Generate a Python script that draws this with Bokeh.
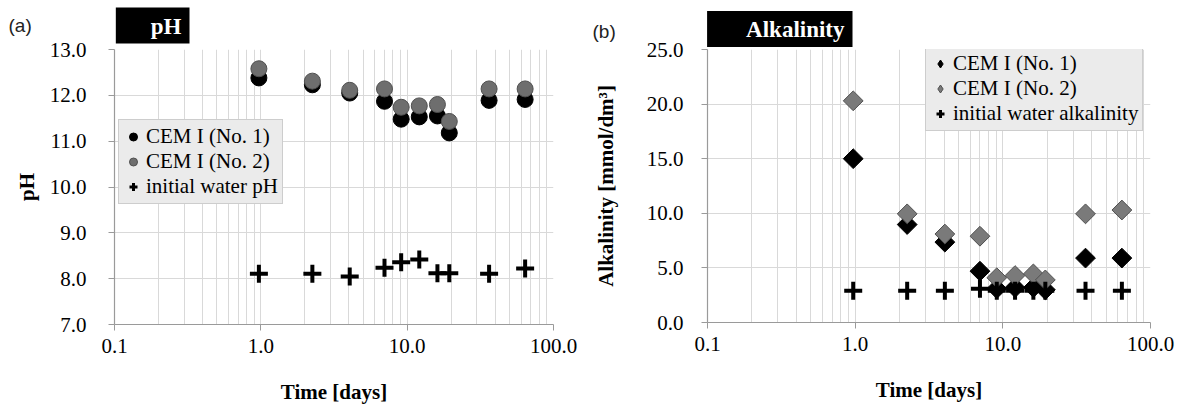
from bokeh.plotting import figure
from bokeh.layouts import row
from bokeh.models import (ColumnDataSource, FixedTicker, Label, Legend, LegendItem, Range1d)
from bokeh.embed import file_html
from bokeh.resources import INLINE
import math

# ---------------- data ----------------
days = [0.97, 2.25, 4.05, 7.0, 9.1, 12.1, 16.1, 19.4, 36.3, 64.0]
ph_no1 = [12.38, 12.23, 12.05, 11.87, 11.48, 11.53, 11.55, 11.18, 11.89, 11.91]
ph_no2 = [12.58, 12.31, 12.11, 12.14, 11.74, 11.77, 11.80, 11.43, 12.14, 12.14]
ph_water = [8.11, 8.11, 8.05, 8.24, 8.36, 8.42, 8.12, 8.12, 8.11, 8.22]

alk_no1 = [15.0, 8.97, 7.36, 4.7, 3.1, 3.2, 3.2, 3.0, 5.9, 5.9]
alk_no2 = [20.3, 9.95, 8.1, 7.9, 4.1, 4.3, 4.45, 3.9, 9.95, 10.3]
alk_water = [2.9, 2.9, 2.9, 3.1, 2.9, 2.9, 2.9, 2.9, 2.9, 2.9]

x_ticks = [0.1, 1, 10, 100]
x_tick_labels = ["0.1", "1.0", "10.0", "100.0"]
ph_ticks = [7, 8, 9, 10, 11, 12, 13]
alk_ticks = [0, 5, 10, 15, 20, 25]

legend_ph = ["CEM I (No. 1)", "CEM I (No. 2)", "initial water pH"]
legend_alk = ["CEM I (No. 1)", "CEM I (No. 2)", "initial water alkalinity"]

SERIF = "Liberation Serif"
SANS = "Liberation Sans"
GRID = "#d9d9d9"
AXIS = "#9a9a9a"
GRAY_FILL = "#6e6e6e"
GRAY_LINE = "#505050"

minor = [m * d for d in (0.1, 1, 10) for m in range(2, 10)]


def style(p, yticks, ylabel, lab_standoff, tick_standoff):
    p.outline_line_color = None
    p.background_fill_color = "white"
    p.border_fill_color = "white"
    p.xaxis.ticker = FixedTicker(ticks=x_ticks, minor_ticks=minor)
    p.xaxis.major_label_overrides = {t: l for t, l in zip(x_ticks, x_tick_labels)}
    p.yaxis.ticker = FixedTicker(ticks=yticks)
    p.yaxis.major_label_overrides = {t: "%.1f" % t for t in yticks}
    for ax in (p.xaxis[0], p.yaxis[0]):
        ax.axis_line_color = AXIS
        ax.axis_line_width = 1.2
        ax.major_tick_line_color = AXIS
        ax.major_tick_out = 6
        ax.major_tick_in = 0
        ax.minor_tick_line_color = None
        ax.major_label_text_font = SERIF
        ax.major_label_text_font_size = "21px"
        ax.major_label_text_color = "black"
        ax.axis_label_text_font = SERIF
        ax.axis_label_text_font_size = "21px"
        ax.axis_label_text_font_style = "bold"
        ax.axis_label_text_color = "black"
    p.xaxis.axis_label = "Time [days]"
    p.xaxis.major_label_standoff = 8
    p.xaxis.axis_label_standoff = 24
    p.yaxis.axis_label = ylabel
    p.yaxis.major_label_standoff = tick_standoff
    p.yaxis.axis_label_standoff = lab_standoff
    p.xgrid.grid_line_color = GRID
    p.xgrid.minor_grid_line_color = GRID
    p.ygrid.grid_line_color = GRID


def make_legend(p, renderers, labels, loc):
    items = [LegendItem(label=l, renderers=[r]) for l, r in zip(labels, renderers)]
    lg = Legend(items=items, location=loc)
    lg.background_fill_color = "#ebebeb"
    lg.background_fill_alpha = 1.0
    lg.border_line_color = "#b0b0b0"
    lg.border_line_width = 1
    lg.label_text_font = SERIF
    lg.label_text_font_size = "21px"
    lg.label_text_color = "black"
    lg.glyph_width = 20
    lg.glyph_height = 23
    lg.label_height = 22
    lg.label_standoff = 3
    lg.spacing = 0
    lg.padding = 4
    lg.margin = 0
    p.add_layout(lg, "center")


def panel_tag(p, text, x, y):
    # placed in the (otherwise empty) right side panel: not clipped to the frame
    p.add_layout(Label(x=x, y=y, x_units="screen", y_units="screen", text=text,
                       text_align="left", text_baseline="middle",
                       text_font=SANS, text_font_size="19px", text_color="#222222"),
                 "right")


def title_box(p, text, x_right, y_mid, pad):
    p.add_layout(Label(x=x_right, y=y_mid, x_units="screen", y_units="screen", text=text,
                       text_align="right", text_baseline="middle",
                       text_font=SERIF, text_font_size="23px", text_font_style="bold",
                       text_color="white", background_fill_color="black",
                       padding=pad),
                 "above")


# ---------------- panel (a) ----------------
p1 = figure(x_axis_type="log", x_range=Range1d(0.1, 100), y_range=Range1d(7, 13),
            frame_width=439, frame_height=275,
            min_border_left=114, min_border_right=37, min_border_top=46, min_border_bottom=87,
            output_backend="svg", toolbar_location=None)
style(p1, ph_ticks, "pH", 8, 22)

src1 = ColumnDataSource(dict(x=days, a=ph_no1, b=ph_no2, w=ph_water))
p1.scatter("x", "a", source=src1, marker="circle", size=16,
           fill_color="black", line_color="black")
p1.scatter("x", "b", source=src1, marker="circle", size=16,
           fill_color=GRAY_FILL, line_color=GRAY_LINE, line_width=1)
p1.scatter("x", "w", source=src1, marker="cross", size=18,
           line_color="black", line_width=4)
l11 = p1.scatter("x", "a", source=src1, marker="circle", fill_color="black",
                 line_color="black", visible=False)
l12 = p1.scatter("x", "b", source=src1, marker="circle", fill_color=GRAY_FILL,
                 line_color=GRAY_LINE, visible=False)
l13 = p1.scatter("x", "w", source=src1, marker="cross", line_color="black",
                 line_width=3, visible=False)
make_legend(p1, [l11, l12, l13], legend_ph, (4, 120))
title_box(p1, "pH", 75, 24, (35, 8, 6, 5))
panel_tag(p1, "(a)", -545, 299)

# ---------------- panel (b) ----------------
p2 = figure(x_axis_type="log", x_range=Range1d(0.1, 100), y_range=Range1d(0, 25),
            frame_width=443, frame_height=273,
            min_border_left=117, min_border_right=30, min_border_top=49, min_border_bottom=86,
            output_backend="svg", toolbar_location=None)
style(p2, alk_ticks, "Alkalinity [mmol/dm³]", 26, 18)

src2 = ColumnDataSource(dict(x=days, a=alk_no1, b=alk_no2, w=alk_water))
p2.scatter("x", "a", source=src2, marker="square", size=14, angle=math.pi / 4,
           fill_color="black", line_color="black")
p2.scatter("x", "b", source=src2, marker="square", size=14, angle=math.pi / 4,
           fill_color="#7a7a7a", line_color=GRAY_LINE, line_width=1)
p2.scatter("x", "w", source=src2, marker="cross", size=18,
           line_color="black", line_width=4)
l21 = p2.scatter("x", "a", source=src2, marker="diamond", fill_color="black",
                 line_color="black", visible=False)
l22 = p2.scatter("x", "b", source=src2, marker="diamond", fill_color="#7a7a7a",
                 line_color=GRAY_LINE, visible=False)
l23 = p2.scatter("x", "w", source=src2, marker="cross", line_color="black",
                 line_width=3, visible=False)
make_legend(p2, [l21, l22, l23], legend_alk, (218, 191))
title_box(p2, "Alkalinity", 145, 20.5, (39, 8, 6, 5))
panel_tag(p2, "(b)", -558, 291)

layout = row(p1, p2)
open("out.html", "w").write(file_html(layout, INLINE))
